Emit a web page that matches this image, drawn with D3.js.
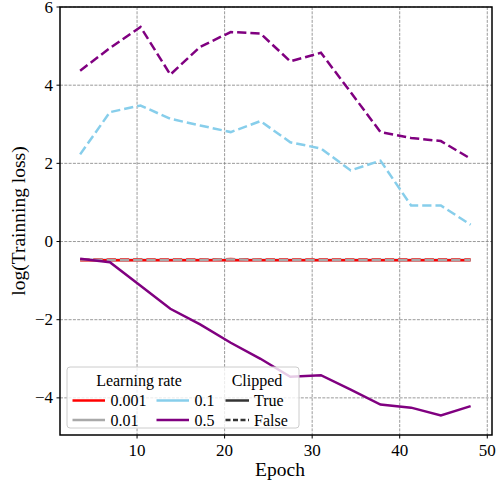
<!DOCTYPE html>
<html><head><meta charset="utf-8">
<script src="https://cdn.jsdelivr.net/npm/d3@7"></script>
<style>body{margin:0;background:#fff}</style>
</head><body><svg id="c" width="499" height="483"></svg>
<script>
// ---- data ----
const epochs = [3.5, 6.9, 10.4, 13.8, 17.2, 20.7, 24.1, 27.5, 31.0, 34.4, 37.8, 41.3, 44.7, 48.1];
const learningRates = ["0.001", "0.01", "0.1", "0.5"];
const clippedLabels = ["True", "False"];
const xTicks = [10, 20, 30, 40, 50];
const yTicks = [-4, -2, 0, 2, 4, 6];
// lr 0.001
const lr0001True  = [-0.48, -0.48, -0.48, -0.48, -0.48, -0.48, -0.48, -0.48, -0.48, -0.48, -0.48, -0.48, -0.48, -0.48];
const lr0001False = [-0.46, -0.46, -0.46, -0.46, -0.46, -0.45, -0.46, -0.46, -0.46, -0.46, -0.46, -0.46, -0.46, -0.46];
// lr 0.01
const lr001True   = [-0.47, -0.47, -0.47, -0.47, -0.47, -0.47, -0.47, -0.47, -0.47, -0.47, -0.47, -0.47, -0.47, -0.47];
const lr001False  = [-0.46, -0.47, -0.47, -0.47, -0.47, -0.46, -0.47, -0.47, -0.47, -0.47, -0.47, -0.47, -0.47, -0.47];
// lr 0.1
const lr01True    = [-0.47, -0.47, -0.47, -0.47, -0.47, -0.47, -0.47, -0.47, -0.47, -0.47, -0.47, -0.47, -0.47, -0.47];
const lr01False   = [2.23, 3.31, 3.48, 3.14, 2.97, 2.80, 3.08, 2.54, 2.38, 1.82, 2.07, 0.92, 0.92, 0.43];
// lr 0.5
const lr05True    = [-0.44, -0.53, -1.13, -1.72, -2.12, -2.59, -3.00, -3.46, -3.42, -3.79, -4.17, -4.25, -4.45, -4.21];
const lr05False   = [4.37, 4.95, 5.49, 4.27, 4.98, 5.36, 5.32, 4.61, 4.83, 3.82, 2.80, 2.65, 2.57, 2.12];

// ---- styles ----
const FONT = '"Liberation Serif"';
const lrColors = {"0.001": "#ff0000", "0.01": "#a9a9a9", "0.1": "#87ceeb", "0.5": "#800080"};
const series = [
  {lr: "0.1",   clipped: true,  values: lr01True},
  {lr: "0.01",  clipped: true,  values: lr001True},
  {lr: "0.001", clipped: true,  values: lr0001True},
  {lr: "0.001", clipped: false, values: lr0001False},
  {lr: "0.01",  clipped: false, values: lr001False},
  {lr: "0.1",   clipped: false, values: lr01False},
  {lr: "0.5",   clipped: false, values: lr05False},
  {lr: "0.5",   clipped: true,  values: lr05True}
];

const svg = d3.select("#c");
const L = 60, R = 492, T = 7, B = 435;
const x = d3.scaleLinear().domain([1.2, 50.54]).range([L, R]);
const y = d3.scaleLinear().domain([-4.95, 6.0]).range([B, T]);

const addText = (parent, xx, yy, s, size, anchor) => parent.append("text")
  .attr("x", xx).attr("y", yy).attr("font-size", size)
  .style("font-family", FONT)
  .attr("text-anchor", anchor || "start").text(s);

// grid
const grid = svg.append("g");
grid.selectAll(".gx").data(xTicks).join("line")
  .attr("x1", d => x(d)).attr("x2", d => x(d)).attr("y1", T).attr("y2", B)
  .attr("stroke", "#808080").attr("stroke-width", 0.8).attr("stroke-dasharray", "3,1.3");
grid.selectAll(".gy").data(yTicks).join("line")
  .attr("y1", d => y(d)).attr("y2", d => y(d)).attr("x1", L).attr("x2", R)
  .attr("stroke", "#808080").attr("stroke-width", 0.8).attr("stroke-dasharray", "3,1.3");

// lines
const line = d3.line().x((d, i) => x(epochs[i])).y(d => y(d));
svg.append("g").selectAll("path").data(series).join("path")
  .attr("d", d => line(d.values))
  .attr("fill", "none")
  .attr("stroke", d => lrColors[d.lr])
  .attr("stroke-width", 2.5)
  .attr("stroke-dasharray", d => d.clipped ? null : "9.25,4");

// ticks (drawn from the scales)
const tk = svg.append("g");
xTicks.forEach(v => {
  tk.append("line").attr("x1", x(v)).attr("x2", x(v)).attr("y1", B).attr("y2", B + 3.5)
    .attr("stroke", "#000").attr("stroke-width", 1);
  addText(tk, x(v), B + 21, String(v), 17, "middle");
});
yTicks.forEach(v => {
  tk.append("line").attr("x1", L - 3.5).attr("x2", L).attr("y1", y(v)).attr("y2", y(v))
    .attr("stroke", "#000").attr("stroke-width", 1);
  addText(tk, L - 7, y(v) + 5.5, v < 0 ? "\u2212" + Math.abs(v) : String(v), 17, "end");
});

// frame
svg.append("rect").attr("x", L).attr("y", T).attr("width", R - L).attr("height", B - T)
  .attr("fill", "none").attr("stroke", "#000").attr("stroke-width", 1.5);

// axis labels
addText(svg, 280, 476, "Epoch", 19.5, "middle");
addText(svg.append("g").attr("transform", `translate(25,${(T + B) / 2}) rotate(-90)`), 0, 0, "log(Trainning loss)", 19.5, "middle");

// legend
const lg = svg.append("g");
lg.append("rect").attr("x", 67).attr("y", 367).attr("width", 232).attr("height", 61).attr("rx", 3)
  .attr("fill", "#fff").attr("fill-opacity", 0.8).attr("stroke", "#cccccc").attr("stroke-width", 1);
addText(lg, 139, 386, "Learning rate", 16, "middle");
addText(lg, 257, 386, "Clipped", 16, "middle");
const lrPos = [[72.5, 400.5], [72.5, 420], [156.5, 400.5], [156.5, 420]];
learningRates.forEach((lr, i) => {
  const [lx, ly] = lrPos[i];
  lg.append("line").attr("x1", lx).attr("x2", lx + 32.5).attr("y1", ly).attr("y2", ly)
    .attr("stroke", lrColors[lr]).attr("stroke-width", 2.5);
  addText(lg, lx + 38, ly + 5.5, lr, 16);
});
clippedLabels.forEach((c, i) => {
  const ly = [400.5, 420][i];
  lg.append("line").attr("x1", 225.5).attr("x2", 249).attr("y1", ly).attr("y2", ly)
    .attr("stroke", "#333").attr("stroke-width", 2.5).attr("stroke-dasharray", c === "True" ? null : "5,2.5");
  addText(lg, 254, ly + 5.5, c, 16);
});
</script></body></html>
